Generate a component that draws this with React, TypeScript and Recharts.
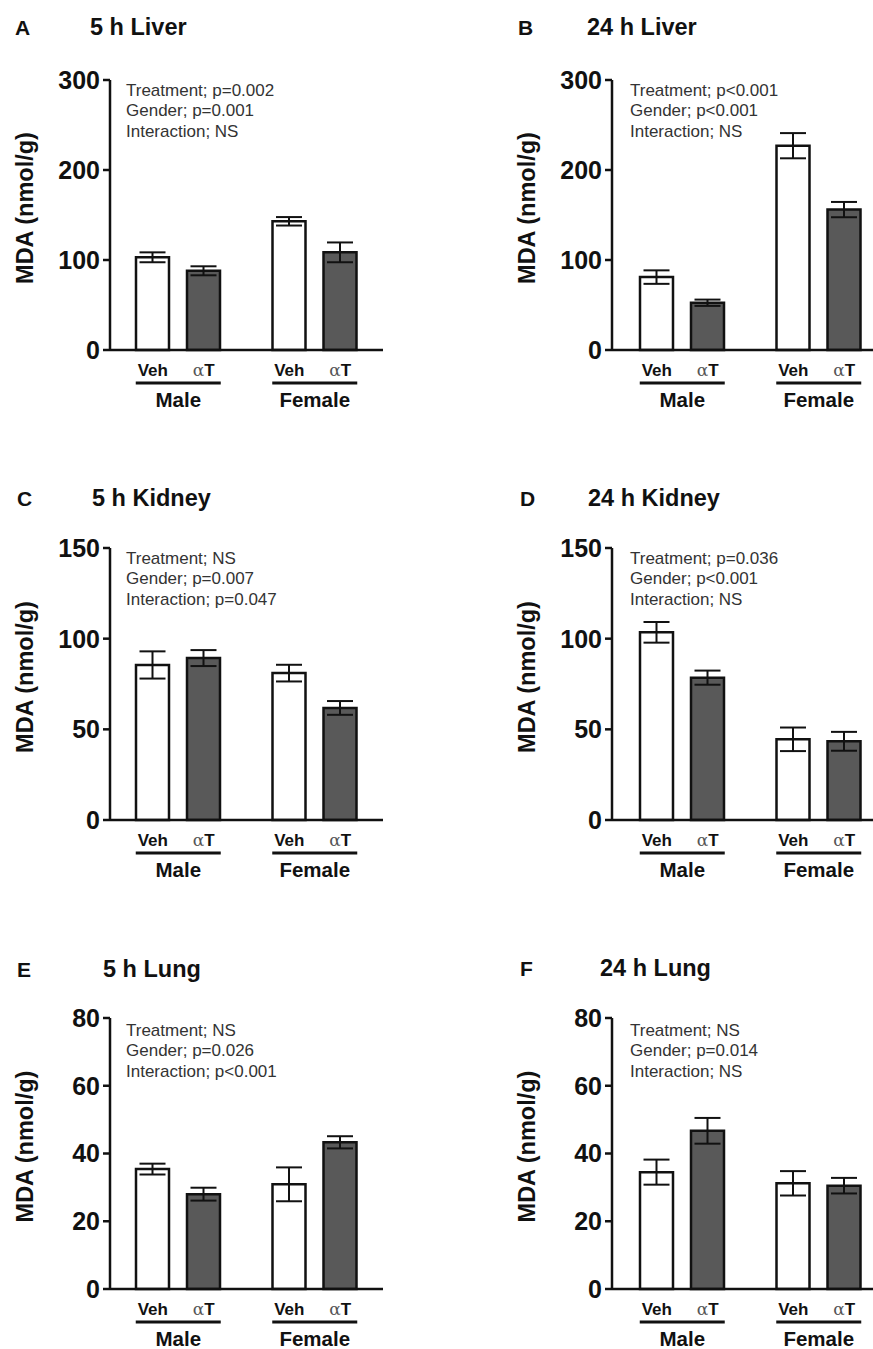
import { BarChart, Bar, XAxis, YAxis, ErrorBar } from 'recharts'

const FONT = '"Liberation Sans", Arial, Helvetica, sans-serif'

const groups = ['Male', 'Female']
const treatments = ['Veh', 'αT']

// A: 5 h liver
const liver5Veh = [103, 143]
const liver5VehErr = [5.5, 4.7]
const liver5AT = [88, 108.5]
const liver5ATErr = [5, 11]

// B: 24 h liver
const liver24Veh = [81, 227]
const liver24VehErr = [7.5, 14]
const liver24AT = [52.5, 156]
const liver24ATErr = [3.5, 8.5]

// C: 5 h kidney
const kidney5Veh = [85.5, 81]
const kidney5VehErr = [7.5, 4.6]
const kidney5AT = [89.3, 61.8]
const kidney5ATErr = [4.4, 3.8]

// D: 24 h kidney
const kidney24Veh = [103.5, 44.5]
const kidney24VehErr = [5.7, 6.5]
const kidney24AT = [78.5, 43.4]
const kidney24ATErr = [3.9, 5.2]

// E: 5 h lung
const lung5Veh = [35.4, 30.9]
const lung5VehErr = [1.6, 5]
const lung5AT = [28, 43.3]
const lung5ATErr = [1.9, 1.8]

// F: 24 h lung
const lung24Veh = [34.5, 31.2]
const lung24VehErr = [3.7, 3.6]
const lung24AT = [46.7, 30.5]
const lung24ATErr = [3.8, 2.3]

const liverTicks = [0, 100, 200, 300]
const kidneyTicks = [0, 50, 100, 150]
const lungTicks = [0, 20, 40, 60, 80]

const statsA = ['Treatment; p=0.002', 'Gender; p=0.001', 'Interaction; NS']
const statsB = ['Treatment; p<0.001', 'Gender; p<0.001', 'Interaction; NS']
const statsC = ['Treatment; NS', 'Gender; p=0.007', 'Interaction; p=0.047']
const statsD = ['Treatment; p=0.036', 'Gender; p<0.001', 'Interaction; NS']
const statsE = ['Treatment; NS', 'Gender; p=0.026', 'Interaction; p<0.001']
const statsF = ['Treatment; NS', 'Gender; p=0.014', 'Interaction; NS']

const BAR = 33
const GAP = 18
const Y_AXIS_W = 110
const PLOT_W = 273

const makeRows = (veh: number[], vehErr: number[], at: number[], atErr: number[]) =>
  groups.map((g, i) => ({ group: g, veh: veh[i], vehErr: vehErr[i], at: at[i], atErr: atErr[i] }))

const panels = [
  { letter: 'A', title: '5 h Liver', letterX: 15, titleX: 90, titleY: 27, axisX: 110, top: 80, bottom: 350, ticks: liverTicks, stats: statsA, statsX: 126, statsY: 90, pad: 0, rows: makeRows(liver5Veh, liver5VehErr, liver5AT, liver5ATErr) },
  { letter: 'B', title: '24 h Liver', letterX: 518, titleX: 587, titleY: 27, axisX: 612, top: 80, bottom: 350, ticks: liverTicks, stats: statsB, statsX: 630, statsY: 90, pad: 2, rows: makeRows(liver24Veh, liver24VehErr, liver24AT, liver24ATErr) },
  { letter: 'C', title: '5 h Kidney', letterX: 17, titleX: 92, titleY: 498, axisX: 110, top: 548, bottom: 820, ticks: kidneyTicks, stats: statsC, statsX: 126, statsY: 558, pad: 0, rows: makeRows(kidney5Veh, kidney5VehErr, kidney5AT, kidney5ATErr) },
  { letter: 'D', title: '24 h Kidney', letterX: 520, titleX: 588, titleY: 498, axisX: 612, top: 548, bottom: 820, ticks: kidneyTicks, stats: statsD, statsX: 630, statsY: 558, pad: 2, rows: makeRows(kidney24Veh, kidney24VehErr, kidney24AT, kidney24ATErr) },
  { letter: 'E', title: '5 h Lung', letterX: 17, titleX: 103, titleY: 969, axisX: 110, top: 1018, bottom: 1289, ticks: lungTicks, stats: statsE, statsX: 126, statsY: 1030, pad: 0, rows: makeRows(lung5Veh, lung5VehErr, lung5AT, lung5ATErr) },
  { letter: 'F', title: '24 h Lung', letterX: 520, titleX: 600, titleY: 968, axisX: 612, top: 1018, bottom: 1289, ticks: lungTicks, stats: statsF, statsX: 630, statsY: 1030, pad: 2, rows: makeRows(lung24Veh, lung24VehErr, lung24AT, lung24ATErr) },
]

// Veh / αT under each bar, a rule, then the group name
const GroupTick = (props: any) => {
  const { x, y, payload } = props
  const off = (BAR + GAP) / 2
  return (
    <g fontFamily={FONT}>
      <text x={x - off} y={y + 20} textAnchor="middle" dominantBaseline="central" fontSize={17} fontWeight="bold" fill="#111">
        {treatments[0]}
      </text>
      <text x={x + off} y={y + 20} textAnchor="middle" dominantBaseline="central" fontSize={17} fill="#111">
        <tspan fontFamily='"DejaVu Serif", serif' fontWeight="normal" fill="#555">{treatments[1].charAt(0)}</tspan>
        <tspan fontWeight="bold">{treatments[1].slice(1)}</tspan>
      </text>
      <line x1={x - off - 17} x2={x + off + 17} y1={y + 33} y2={y + 33} stroke="#111" strokeWidth={3} />
      <text x={x} y={y + 49.5} textAnchor="middle" dominantBaseline="central" fontSize={20.5} fontWeight="bold" fill="#111">
        {payload.value}
      </text>
    </g>
  )
}

const yLabel = (props: any) => {
  const vb = props.viewBox || {}
  const cx = vb.x + vb.width - 85
  const cy = vb.y + vb.height / 2 - 7
  return (
    <text x={cx} y={cy} transform={`rotate(-90 ${cx} ${cy})`} textAnchor="middle" dominantBaseline="central"
      fontFamily={FONT} fontSize={23.5} fontWeight="bold" fill="#111">
      MDA (nmol/g)
    </text>
  )
}

function Panel({ p }: { p: (typeof panels)[number] }) {
  const mTop = 20
  const mBottom = 10
  const xH = 60
  const width = Y_AXIS_W + PLOT_W + p.pad + 10
  const height = mTop + (p.bottom - p.top) + xH + mBottom
  const yMax = p.ticks[p.ticks.length - 1]
  return (
    <div style={{ position: 'absolute', left: p.axisX - Y_AXIS_W, top: p.top - mTop }}>
      <BarChart width={width} height={height} data={p.rows} barSize={BAR} barGap={GAP}
        margin={{ top: mTop, right: 10, bottom: mBottom, left: 0 }}>
        <XAxis dataKey="group" height={xH} interval={0} tickLine={false} tickSize={0} tickMargin={0}
          padding={{ left: p.pad, right: 0 }}
          axisLine={{ stroke: '#111', strokeWidth: 2.5 }} tick={<GroupTick />} />
        <YAxis width={Y_AXIS_W} domain={[0, yMax]} ticks={p.ticks} interval={0} tickSize={7} tickMargin={3}
          axisLine={{ stroke: '#111', strokeWidth: 2.5 }} tickLine={{ stroke: '#111', strokeWidth: 2.5 }}
          tick={{ fontFamily: FONT, fontSize: 25, fontWeight: 'bold', fill: '#111' }} label={yLabel} />
        <Bar dataKey="veh" fill="#ffffff" stroke="#111" strokeWidth={2.5} isAnimationActive={false}>
          <ErrorBar dataKey="vehErr" width={13} stroke="#111" strokeWidth={2} direction="y" />
        </Bar>
        <Bar dataKey="at" fill="#595959" stroke="#111" strokeWidth={2.5} isAnimationActive={false}>
          <ErrorBar dataKey="atErr" width={13} stroke="#111" strokeWidth={2} direction="y" />
        </Bar>
      </BarChart>
    </div>
  )
}

export default function App() {
  return (
    <div style={{ position: 'absolute', left: 0, top: 0, width: 873, height: 1349, overflow: 'hidden', background: '#fff' }}>
      {panels.map((p) => (
        <Panel key={p.letter} p={p} />
      ))}
      <svg width={873} height={1349} style={{ position: 'absolute', left: 0, top: 0, pointerEvents: 'none' }}>
        {panels.map((p) => (
          <g key={p.letter} fontFamily={FONT}>
            <text x={p.letterX} y={p.titleY} dominantBaseline="central" fontSize={21} fontWeight="bold" fill="#111">
              {p.letter}
            </text>
            <text x={p.titleX} y={p.titleY} dominantBaseline="central" fontSize={23.5} fontWeight="bold" fill="#111">
              {p.title}
            </text>
            {p.stats.map((s, i) => (
              <text key={s} x={p.statsX} y={p.statsY + i * 20.7} dominantBaseline="central" fontSize={17} fill="#333">
                {s}
              </text>
            ))}
          </g>
        ))}
      </svg>
    </div>
  )
}
